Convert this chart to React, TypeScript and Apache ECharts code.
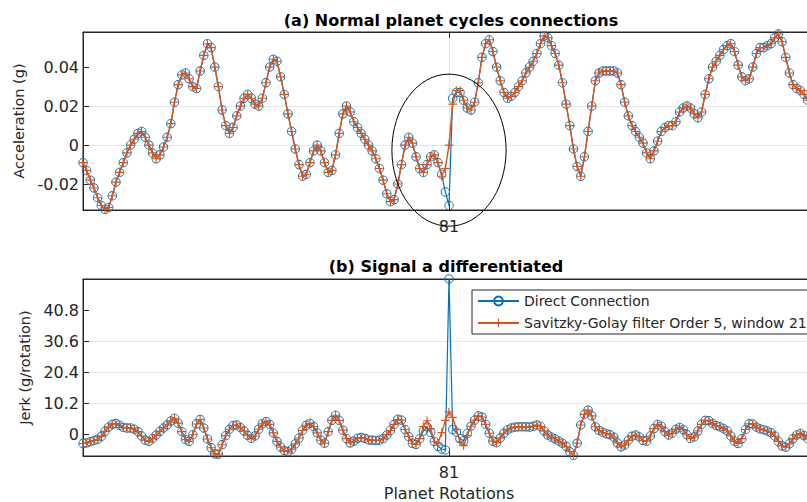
import React, { useEffect, useRef } from 'react';
import * as echarts from 'echarts';

// ---- data ----
const X_START = 80.5;
const X_STEP = 0.005;

const seriesNames = ['Direct Connection', 'Savitzky-Golay filter Order 5, window 21'];
const xTickLabels = ['81'];
const accelTicks = [-0.02, 0, 0.02, 0.04];
const jerkTicks = [0, 10.2, 20.4, 30.6, 40.8];

const accelDirect = [
  -0.009, -0.013, -0.018, -0.022, -0.027, -0.031, -0.033, -0.032, -0.026, -0.019,
  -0.014, -0.009, -0.004, 0, 0.003, 0.006, 0.007, 0.004, 0, -0.004,
  -0.007, -0.005, -0.001, 0.004, 0.011, 0.022, 0.031, 0.036, 0.037, 0.034,
  0.030, 0.029, 0.038, 0.046, 0.052, 0.050, 0.040, 0.030, 0.018, 0.010,
  0.006, 0.009, 0.015, 0.020, 0.024, 0.026, 0.024, 0.021, 0.020, 0.024,
  0.032, 0.040, 0.044, 0.043, 0.035, 0.026, 0.016, 0.007, -0.002, -0.010,
  -0.016, -0.015, -0.009, -0.003, 0, -0.003, -0.009, -0.014, -0.013, -0.005,
  0.006, 0.016, 0.020, 0.017, 0.012, 0.009, 0.006, 0.003, 0, -0.003,
  -0.007, -0.012, -0.018, -0.025, -0.029, -0.028, -0.020, -0.010, 0, 0.004,
  0.001, -0.006, -0.012, -0.014, -0.010, -0.006, -0.005, -0.009, -0.015, -0.024,
  -0.031, 0.024, 0.027, 0.027, 0.023, 0.019, 0.018, 0.022, 0.032, 0.045,
  0.052, 0.054, 0.048, 0.040, 0.033, 0.027, 0.024, 0.025, 0.027, 0.030,
  0.033, 0.037, 0.040, 0.043, 0.047, 0.052, 0.056, 0.055, 0.051, 0.047,
  0.041, 0.032, 0.021, 0.010, -0.002, -0.011, -0.016, -0.006, 0.007, 0.020,
  0.033, 0.037, 0.038, 0.038, 0.038, 0.038, 0.037, 0.031, 0.022, 0.015,
  0.010, 0.007, 0.004, 0.001, -0.004, -0.007, -0.003, 0.002, 0.007, 0.009,
  0.010, 0.010, 0.012, 0.017, 0.019, 0.020, 0.019, 0.016, 0.014, 0.017,
  0.026, 0.034, 0.040, 0.043, 0.046, 0.049, 0.051, 0.052, 0.048, 0.041,
  0.035, 0.033, 0.034, 0.040, 0.047, 0.050, 0.050, 0.051, 0.052, 0.055,
  0.057, 0.053, 0.045, 0.037, 0.031, 0.029, 0.028, 0.026, 0.023,
];
// Savitzky-Golay acceleration differs from the direct one only around rotation 81
const SG_ACCEL_START = 98;
const sgAccelPatch = [-0.016, -0.012, 0.0, 0.021, 0.028, 0.028];

const jerkDirect = [
  -3.1, -2.9, -2.5, -2.1, -1.7, -0.8, 0.9, 2.3, 3.2, 3.5,
  2.9, 2.2, 2.0, 2.0, 1.6, 0.8, -0.6, -2.0, -2.4, -1.5,
  -0.3, 0.9, 2.0, 3.0, 4.3, 5.2, 3.6, 0.8, -1.8, -2.4,
  -0.2, 3.3, 4.8, 2.0, -1.6, -4.5, -6.5, -6.6, -3.5, -0.5,
  1.6, 2.8, 3.0, 2.2, 1.0, -0.4, -1.4, -0.6, 1.6, 3.4,
  4.1, 3.2, 0.4, -2.4, -4.3, -5.4, -5.8, -5.0, -3.2, -1.3,
  1.2, 2.9, 3.5, 2.5, 0.4, -2.0, -3.0, 0.8, 4.5, 6.2,
  4.5, 1.3, -1.5, -2.9, -2.3, -1.4, -1.1, -1.4, -1.9, -2.0,
  -2.1, -2.0, -1.5, -0.3, 1.2, 3.2, 4.9, 4.6, 1.5, -0.8,
  -3.0, -3.4, -1.5, 1.0, 2.4, 0.5, -2.4, -4.0, -4.9, -5.2,
  51.0, 1.5, 0.7, -1.5, -2.2, 0.2, 2.6, 4.6, 6.0, 5.6,
  3.2, 0.3, -2.3, -2.8, -1.3, 0.3, 1.4, 2.0, 2.3, 2.4,
  2.4, 2.4, 2.3, 2.6, 3.0, 2.5, 1.0, -0.3, -1.0, -1.6,
  -2.3, -3.0, -4.0, -5.8, -7.0, -3.0, 3.0, 6.5, 7.9, 6.0,
  2.4, 1.2, 0.6, 0.1, -0.2, -1.0, -2.9, -4.2, -3.6, -2.0,
  -0.7, -0.3, -0.9, -2.1, -2.3, -0.6, 1.8, 3.2, 2.6, 0.8,
  -0.3, 0.3, 1.6, 2.2, 1.5, -0.2, -1.4, -0.9, 1.0, 3.2,
  4.5, 4.4, 3.5, 2.8, 2.4, 1.8, 1.1, -0.6, -2.4, -3.1,
  -1.5, 1.5, 3.4, 3.3, 2.3, 1.7, 1.4, 1.0, 0.5, -0.6,
  -2.4, -3.9, -4.3, -3.2, -1.5, -0.3, 0.2, -0.5, -1.4,
];
const SG_JERK_START = 93;
const sgJerkPatch = [2.5, 4.4, 1.8, -2.5, -3.0, 0.5, 4.5, 7.3, 5.5, 1.5, -2.5, -3.8, -0.5];

// annotation ellipse (data units, top panel)
const ELLIPSE_CENTER = [81, -0.0026];
const ELLIPSE_RADII = [0.078, 0.039];

// ---- styling ----
const BLUE = '#0072BD';
const ORANGE = '#D95319';
const AXIS = '#262626';
const GRID = '#e6e6e6';
const FONT = '"DejaVu Sans", "Liberation Sans", sans-serif';
const PLUS = 'path://M4.35,0H5.65V4.35H10V5.65H5.65V10H4.35V5.65H0V4.35H4.35Z';

const patch = (base: number[], start: number, p: number[]) =>
  base.map((v, i) => (i >= start && i < start + p.length ? p[i - start] : v));

const toPairs = (vals: number[]) => vals.map((v, i) => [+(X_START + i * X_STEP).toFixed(4), v]);

export default function App() {
  const ref = useRef<HTMLDivElement>(null);

  useEffect(() => {
    document.body.style.margin = '0';
    if (!ref.current) return;
    const chart = echarts.init(ref.current, undefined, { renderer: 'svg' });

    const sgAccel = patch(accelDirect, SG_ACCEL_START, sgAccelPatch);
    const sgJerk = patch(jerkDirect, SG_JERK_START, sgJerkPatch);

    const label = { fontFamily: FONT, fontSize: 16, color: AXIS };

    const xAxisBase = (gridIndex: number, bottom: boolean) => ({
      gridIndex,
      type: 'value',
      min: 80.5,
      max: 81.5,
      interval: 0.5,
      position: bottom ? 'bottom' : 'top',
      axisLine: { show: true, onZero: false, lineStyle: { color: AXIS, width: 1 } },
      axisTick: { show: true, inside: true, length: 6, lineStyle: { color: AXIS } },
      axisLabel: bottom
        ? {
            ...label,
            margin: 8,
            formatter: (v: number) => (xTickLabels.includes(String(v)) ? String(v) : ''),
          }
        : { show: false },
      splitLine: bottom
        ? { show: true, showMinLine: false, showMaxLine: false, lineStyle: { color: GRID, width: 1 } }
        : { show: false },
    });

    const yAxisBase = (gridIndex: number, min: number, max: number, ticks: number[], name: string, gap: number) => ({
      gridIndex,
      type: 'value',
      min,
      max,
      name,
      nameLocation: 'middle',
      nameGap: gap,
      nameTextStyle: { fontFamily: FONT, fontSize: 14.5, color: AXIS },
      axisLine: { show: true, onZero: false, lineStyle: { color: AXIS, width: 1 } },
      axisTick: { show: true, inside: true, length: 6, customValues: ticks, lineStyle: { color: AXIS } },
      axisLabel: { ...label, margin: 4, customValues: ticks },
      splitLine: { show: true, showMinLine: false, showMaxLine: false, lineStyle: { color: GRID, width: 1 } },
    });

    const direct = (data: any[], xi: number, yi: number) => ({
      name: seriesNames[0],
      type: 'line',
      xAxisIndex: xi,
      yAxisIndex: yi,
      data,
      symbol: 'circle',
      symbolSize: 8.5,
      showAllSymbol: true,
      lineStyle: { color: BLUE, width: 1.2 },
      itemStyle: { color: 'rgba(0,0,0,0)', borderColor: BLUE, borderWidth: 1 },
      emphasis: { disabled: true },
      z: 2,
    });
    const sg = (data: any[], xi: number, yi: number) => ({
      name: seriesNames[1],
      type: 'line',
      xAxisIndex: xi,
      yAxisIndex: yi,
      data,
      symbol: PLUS,
      symbolSize: 8.5,
      showAllSymbol: true,
      lineStyle: { color: ORANGE, width: 1.4 },
      itemStyle: { color: ORANGE, borderWidth: 0 },
      emphasis: { disabled: true },
      z: 3,
    });

    const gridBase = {
      left: 83,
      width: 732,
      show: true,
      borderColor: AXIS,
      borderWidth: 1,
      backgroundColor: '#fff',
      containLabel: false,
      outerBoundsMode: 'none',
    };

    chart.setOption({
      animation: false,
      backgroundColor: '#fff',
      grid: [
        { ...gridBase, top: 32, height: 178 },
        { ...gridBase, top: 279, height: 177 },
      ],
      xAxis: [
        xAxisBase(0, true),
        xAxisBase(0, false),
        {
          ...xAxisBase(1, true),
          name: 'Planet Rotations',
          nameLocation: 'middle',
          nameGap: 29,
          nameTextStyle: { fontFamily: FONT, fontSize: 16, lineHeight: 16, color: AXIS },
        },
        xAxisBase(1, false),
      ],
      yAxis: [
        yAxisBase(0, -0.0333, 0.058, accelTicks, 'Acceleration (g)', 51),
        yAxisBase(1, -7.2, 51, jerkTicks, 'Jerk (g/rotation)', 48),
      ],
      legend: {
        data: seriesNames,
        orient: 'vertical',
        left: 472,
        top: 290,
        itemWidth: 41,
        itemHeight: 11,
        itemGap: 8,
        padding: [4, 14, 4, 5],
        backgroundColor: '#fff',
        borderColor: AXIS,
        borderWidth: 1,
        borderRadius: 0,
        selectedMode: false,
        textStyle: { fontFamily: FONT, fontSize: 14, color: AXIS },
      },
      series: [
        direct(toPairs(accelDirect), 0, 0),
        sg(toPairs(sgAccel), 0, 0),
        direct(toPairs(jerkDirect), 2, 1),
        sg(toPairs(sgJerk), 2, 1),
      ],
    });

    const c = chart.convertToPixel({ xAxisIndex: 0, yAxisIndex: 0 }, ELLIPSE_CENTER) as number[];
    const e = chart.convertToPixel({ xAxisIndex: 0, yAxisIndex: 0 }, [
      ELLIPSE_CENTER[0] + ELLIPSE_RADII[0],
      ELLIPSE_CENTER[1] + ELLIPSE_RADII[1],
    ]) as number[];

    const titleStyle = (text: string) => ({
      text,
      fontFamily: FONT,
      fontSize: 16,
      fontWeight: 'bold',
      fill: '#000',
      align: 'center',
      verticalAlign: 'middle',
      textAlign: 'center',
      textVerticalAlign: 'middle',
    });

    chart.setOption({
      graphic: [
        { type: 'text', x: 451, y: 20, style: titleStyle('(a) Normal planet cycles connections'), z: 10 },
        { type: 'text', x: 446, y: 266, style: titleStyle('(b) Signal a differentiated'), z: 10 },
        {
          type: 'ellipse',
          shape: { cx: c[0], cy: c[1], rx: Math.abs(e[0] - c[0]), ry: Math.abs(c[1] - e[1]) },
          style: { fill: 'transparent', stroke: '#000', lineWidth: 1 },
          silent: true,
          z: 10,
        },
      ],
    });

    return () => chart.dispose();
  }, []);

  return <div ref={ref} style={{ position: 'absolute', left: 0, top: 0, width: 807, height: 502 }} />;
}
